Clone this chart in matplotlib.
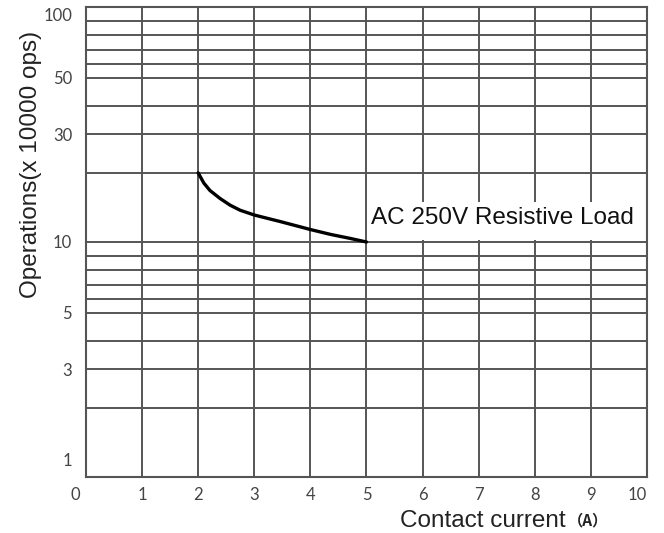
import matplotlib
matplotlib.use("Agg")
import numpy as np
import matplotlib.pyplot as plt
import matplotlib.transforms as mtransforms
from matplotlib.ticker import FixedLocator, NullFormatter

# data
current_a = [2.0, 2.1, 2.21, 2.39, 2.57, 2.75, 3.0, 3.23, 3.46, 3.64, 4.0, 4.36, 4.71, 5.0]
operations = [20.0, 18.1, 16.8, 15.5, 14.5, 13.8, 13.15, 12.7, 12.3, 12.0, 11.4, 10.85, 10.4, 10.0]
x_ticks = [0, 1, 2, 3, 4, 5, 6, 7, 8, 9, 10]
y_tick_vals = [1, 3, 5, 10, 30, 50, 100]
y_tick_labels = ["1", "3", "5", "10", "30", "50", "100"]
y_grid = [2, 3, 4, 5, 6, 7, 8, 9, 10, 20, 30, 40, 50, 60, 70, 80, 90]
label_text = "AC 250V Resistive Load"

# hand-drawn style log scale of the original chart (mantissa -> position within a decade)
_k = 0.294 / np.log10(2)
_M = np.array([1.0, 1.25, 1.5, 1.75, 2.0, 3.0, 4.0, 5.0, 10.0])
_F = np.array([0.0, np.log10(1.25) * _k, np.log10(1.5) * _k, np.log10(1.75) * _k,
               0.294, 0.458, 0.579, 0.698, 1.0])


def fwd(v):
    v = np.asarray(v, dtype=float)
    v = np.where(v > 0, v, 1e-300)
    d = np.floor(np.log10(v) + 1e-12)
    m = v / 10.0 ** d
    return d + np.interp(m, _M, _F)


def inv(p):
    p = np.asarray(p, dtype=float)
    d = np.floor(p + 1e-12)
    m = np.interp(p - d, _F, _M)
    return m * 10.0 ** d


fig = plt.figure(figsize=(6.64, 5.33), dpi=100)
ax = fig.add_axes([0.1295, 0.1051, 0.8449, 0.8818])
grid_col = "#555555"

ax.set_yscale("function", functions=(fwd, inv))
ax.set_xlim(0, 10)
ax.set_ylim(1, 100)

ax.set_xticks(x_ticks)
ax.set_xticklabels([str(v) for v in x_ticks])
ax.yaxis.set_major_locator(FixedLocator(y_tick_vals))
ax.set_yticklabels(y_tick_labels)
ax.yaxis.set_minor_locator(FixedLocator([]))
ax.yaxis.set_minor_formatter(NullFormatter())

for v in x_ticks[1:-1]:
    ax.axvline(v, color=grid_col, lw=1.4, zorder=1)
for v in y_grid:
    ax.axhline(v, color=grid_col, lw=1.4, zorder=1)

for s in ax.spines.values():
    s.set_color(grid_col)
    s.set_linewidth(1.5)

ax.tick_params(axis="both", length=0, labelsize=12, labelcolor="#444444")
ax.tick_params(axis="y", pad=10)
ax.tick_params(axis="x", pad=7)
for lab in ax.get_xticklabels() + ax.get_yticklabels():
    lab.set_fontfamily("Lato")

# nudge edge labels like the reference
ylabs = ax.get_yticklabels()
ylabs[0].set_transform(ylabs[0].get_transform() + mtransforms.ScaledTranslation(0, 0.17, fig.dpi_scale_trans))
ylabs[-1].set_transform(ylabs[-1].get_transform() + mtransforms.ScaledTranslation(0, -0.08, fig.dpi_scale_trans))
xlabs = ax.get_xticklabels()
xlabs[0].set_transform(xlabs[0].get_transform() + mtransforms.ScaledTranslation(-0.11, 0, fig.dpi_scale_trans))
xlabs[-1].set_transform(xlabs[-1].get_transform() + mtransforms.ScaledTranslation(-0.10, 0, fig.dpi_scale_trans))

ax.plot(current_a, operations, color="black", lw=2.4, zorder=3,
        solid_capstyle="round", solid_joinstyle="round")

# white box behind label
ax.fill_between([5.03, 10], 10.2, 14.9, color="white", zorder=2, lw=0)
ax.text(5.08, 12.75, label_text, fontsize=17.5, family="Liberation Sans",
        va="center", ha="left", color="#111111", zorder=4)

ax.set_ylabel("Operations(x 10000 ops)", fontsize=17.5, family="Liberation Sans",
              color="#222222")
ax.yaxis.set_label_coords(-0.078, 0.664)
fig.text(0.602, 0.012, "Contact current", fontsize=17.5, family="Liberation Sans",
         color="#222222", ha="left", va="baseline")
fig.text(0.855, 0.015, "（A）", fontsize=11, family=["Noto Sans CJK SC", "DejaVu Sans"],
         color="#222222", ha="left", va="baseline", fontweight="bold")

fig.savefig("out.png", dpi=100)
